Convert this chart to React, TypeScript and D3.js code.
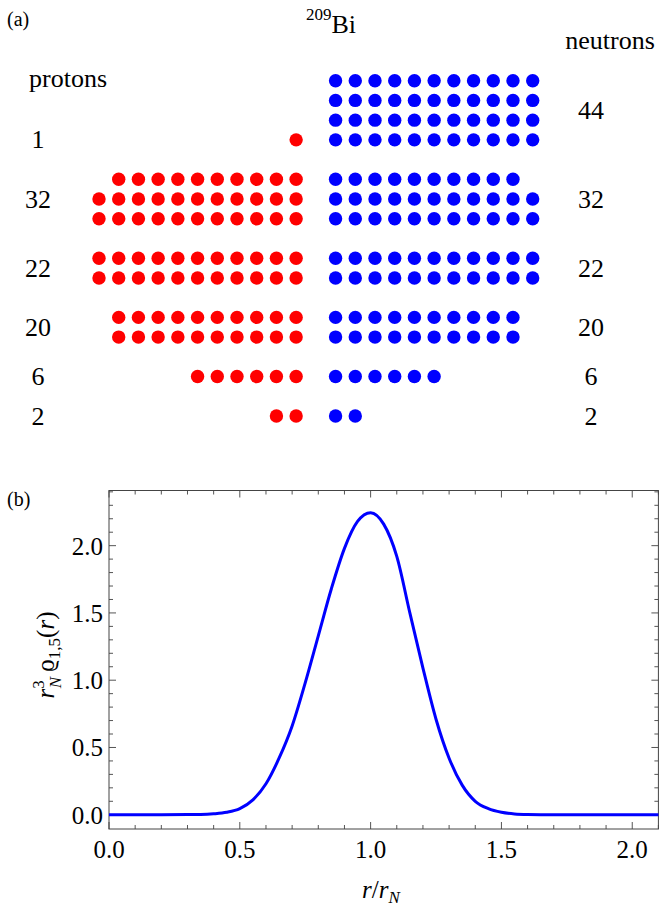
import * as d3 from "d3";

// ---- panel (a): shell occupation of 209Bi ----
const protonLabels = ["1", "32", "22", "20", "6", "2"];
const neutronLabels = ["44", "32", "22", "20", "6", "2"];

// [shell index, grid row, dots in that row]
const protonRows: [number, number, number][] = [
  [0, 3, 1],
  [1, 5, 10], [1, 6, 11], [1, 7, 11],
  [2, 9, 11], [2, 10, 11],
  [3, 12, 10], [3, 13, 10],
  [4, 15, 6],
  [5, 17, 2],
];
const neutronRows: [number, number, number][] = [
  [0, 0, 11], [0, 1, 11], [0, 2, 11], [0, 3, 11],
  [1, 5, 10], [1, 6, 11], [1, 7, 11],
  [2, 9, 11], [2, 10, 11],
  [3, 12, 10], [3, 13, 10],
  [4, 15, 6],
  [5, 17, 2],
];

// ---- panel (b): r_N^3 rho_{1,5}(r) vs r/r_N ----
const rValues = [
  0, 0.2, 0.3, 0.35, 0.4, 0.45, 0.5, 0.55, 0.6, 0.65, 0.7, 0.75, 0.8, 0.85, 0.9,
  0.95, 1.0, 1.05, 1.1, 1.15, 1.2, 1.25, 1.3, 1.35, 1.4, 1.45, 1.5, 1.55, 1.6,
  1.7, 2.1,
];
const densityValues = [
  0, 0, 0.001, 0.002, 0.007, 0.018, 0.045, 0.11, 0.23, 0.42, 0.66, 0.98, 1.33,
  1.68, 1.98, 2.18, 2.245, 2.16, 1.92, 1.5, 1.09, 0.71, 0.42, 0.22, 0.1, 0.045,
  0.018, 0.006, 0.002, 0, 0,
];
const xTickValues = [0, 0.5, 1.0, 1.5, 2.0];
const yTickValues = [0, 0.5, 1.0, 1.5, 2.0];

const W = 659;
const H = 915;
const SERIF = '"Liberation Serif", "DejaVu Serif", serif';

export default function App() {
  // dot grid
  const col = d3.scaleLinear().domain([0, 22]).range([99, 532.7]);
  const row = d3.scaleLinear().domain([0, 17]).range([80.7, 416]);
  const dotR = 6.7;

  const protonDots = protonRows.flatMap(([, r, n]) =>
    d3.range(n).map((i) => ({ cx: col(10 - i), cy: row(r) }))
  );
  const neutronDots = neutronRows.flatMap(([, r, n]) =>
    d3.range(n).map((i) => ({ cx: col(12 + i), cy: row(r) }))
  );
  const labelRow = (rows: [number, number, number][], s: number) =>
    d3.mean(rows.filter((d) => d[0] === s), (d) => d[1]) as number;

  // plot
  const left = 109, right = 658.4, top = 490.5, bottom = 829;
  const x = d3.scaleLinear().domain([0, 2.1]).range([left, right]);
  const y = d3.scaleLinear().domain([-0.106, 2.41]).range([bottom, top]);
  const points: [number, number][] = rValues.map((r, i) => [r, densityValues[i]]);
  const line = d3
    .line<[number, number]>()
    .x((d) => x(d[0]))
    .y((d) => y(d[1]))
    .curve(d3.curveMonotoneX);

  const xMinor = d3.range(0, 22).map((i) => i / 10);
  const yMinor = d3.range(0, 25).map((i) => i / 10);
  const isMajor = (v: number) => Math.abs(v * 2 - Math.round(v * 2)) < 1e-6;
  const tickColor = "#555";
  const fmt = d3.format(".1f");

  return (
    <svg
      width={W}
      height={H}
      style={{ position: "absolute", left: 0, top: 0, background: "#fff", fontFamily: SERIF }}
    >
      {/* panel (a) */}
      <text x={7} y={26} fontSize={20}>(a)</text>
      <text x={331} y={33} fontSize={26} textAnchor="middle">
        <tspan fontSize={17} dy={-13}>209</tspan>
        <tspan dy={13}>Bi</tspan>
      </text>
      <text x={68} y={87} fontSize={26} textAnchor="middle">protons</text>
      <text x={610} y={49} fontSize={26} textAnchor="middle">neutrons</text>

      {protonLabels.map((l, s) => (
        <text key={"pl" + s} x={38} y={row(labelRow(protonRows, s)) + 8.5}
          fontSize={26} textAnchor="middle">{l}</text>
      ))}
      {neutronLabels.map((l, s) => (
        <text key={"nl" + s} x={591} y={row(labelRow(neutronRows, s)) + 8.5}
          fontSize={26} textAnchor="middle">{l}</text>
      ))}
      {protonDots.map((d, i) => (
        <circle key={"p" + i} cx={d.cx} cy={d.cy} r={dotR} fill="#ff0000" />
      ))}
      {neutronDots.map((d, i) => (
        <circle key={"n" + i} cx={d.cx} cy={d.cy} r={dotR} fill="#0000ff" />
      ))}

      {/* panel (b) */}
      <text x={7} y={506} fontSize={20}>(b)</text>

      {xMinor.map((v) => {
        const len = isMajor(v) ? 7 : 4;
        return (
          <g key={"xt" + v} stroke={tickColor} strokeWidth={1}>
            <line x1={x(v)} x2={x(v)} y1={bottom} y2={bottom - len} />
            <line x1={x(v)} x2={x(v)} y1={top} y2={top + len} />
          </g>
        );
      })}
      {yMinor.map((v) => {
        const len = isMajor(v) ? 7 : 4;
        return (
          <g key={"yt" + v} stroke={tickColor} strokeWidth={1}>
            <line x1={left} x2={left + len} y1={y(v)} y2={y(v)} />
            <line x1={right} x2={right - len} y1={y(v)} y2={y(v)} />
          </g>
        );
      })}
      <rect x={left} y={top} width={right - left} height={bottom - top}
        fill="none" stroke="#444" strokeWidth={1} />

      <path d={line(points) ?? ""} fill="none" stroke="#0000ff" strokeWidth={3} />

      {xTickValues.map((v) => (
        <text key={"xl" + v} x={x(v)} y={858} fontSize={25} textAnchor="middle">{fmt(v)}</text>
      ))}
      {yTickValues.map((v) => (
        <text key={"yl" + v} x={103} y={y(v) + 9} fontSize={25} textAnchor="end">{fmt(v)}</text>
      ))}

      <text x={381} y={898} fontSize={25} textAnchor="middle">
        <tspan fontStyle="italic">r</tspan>/<tspan fontStyle="italic">r</tspan>
        <tspan fontStyle="italic" fontSize={17} dy={5}>N</tspan>
      </text>

      <text transform="translate(54,655) rotate(-90)" fontSize={25} textAnchor="middle">
        <tspan fontStyle="italic">r</tspan>
        <tspan fontSize={17} dy={-10}>3</tspan>
        <tspan fontSize={17} fontStyle="italic" dx={-8} dy={17}>N</tspan>
        <tspan dx={5} dy={-7}>ϱ</tspan>
        <tspan fontSize={17} dy={6}>1,5</tspan>
        <tspan dy={-6}>(</tspan>
        <tspan fontStyle="italic">r</tspan>
        <tspan>)</tspan>
      </text>
    </svg>
  );
}
